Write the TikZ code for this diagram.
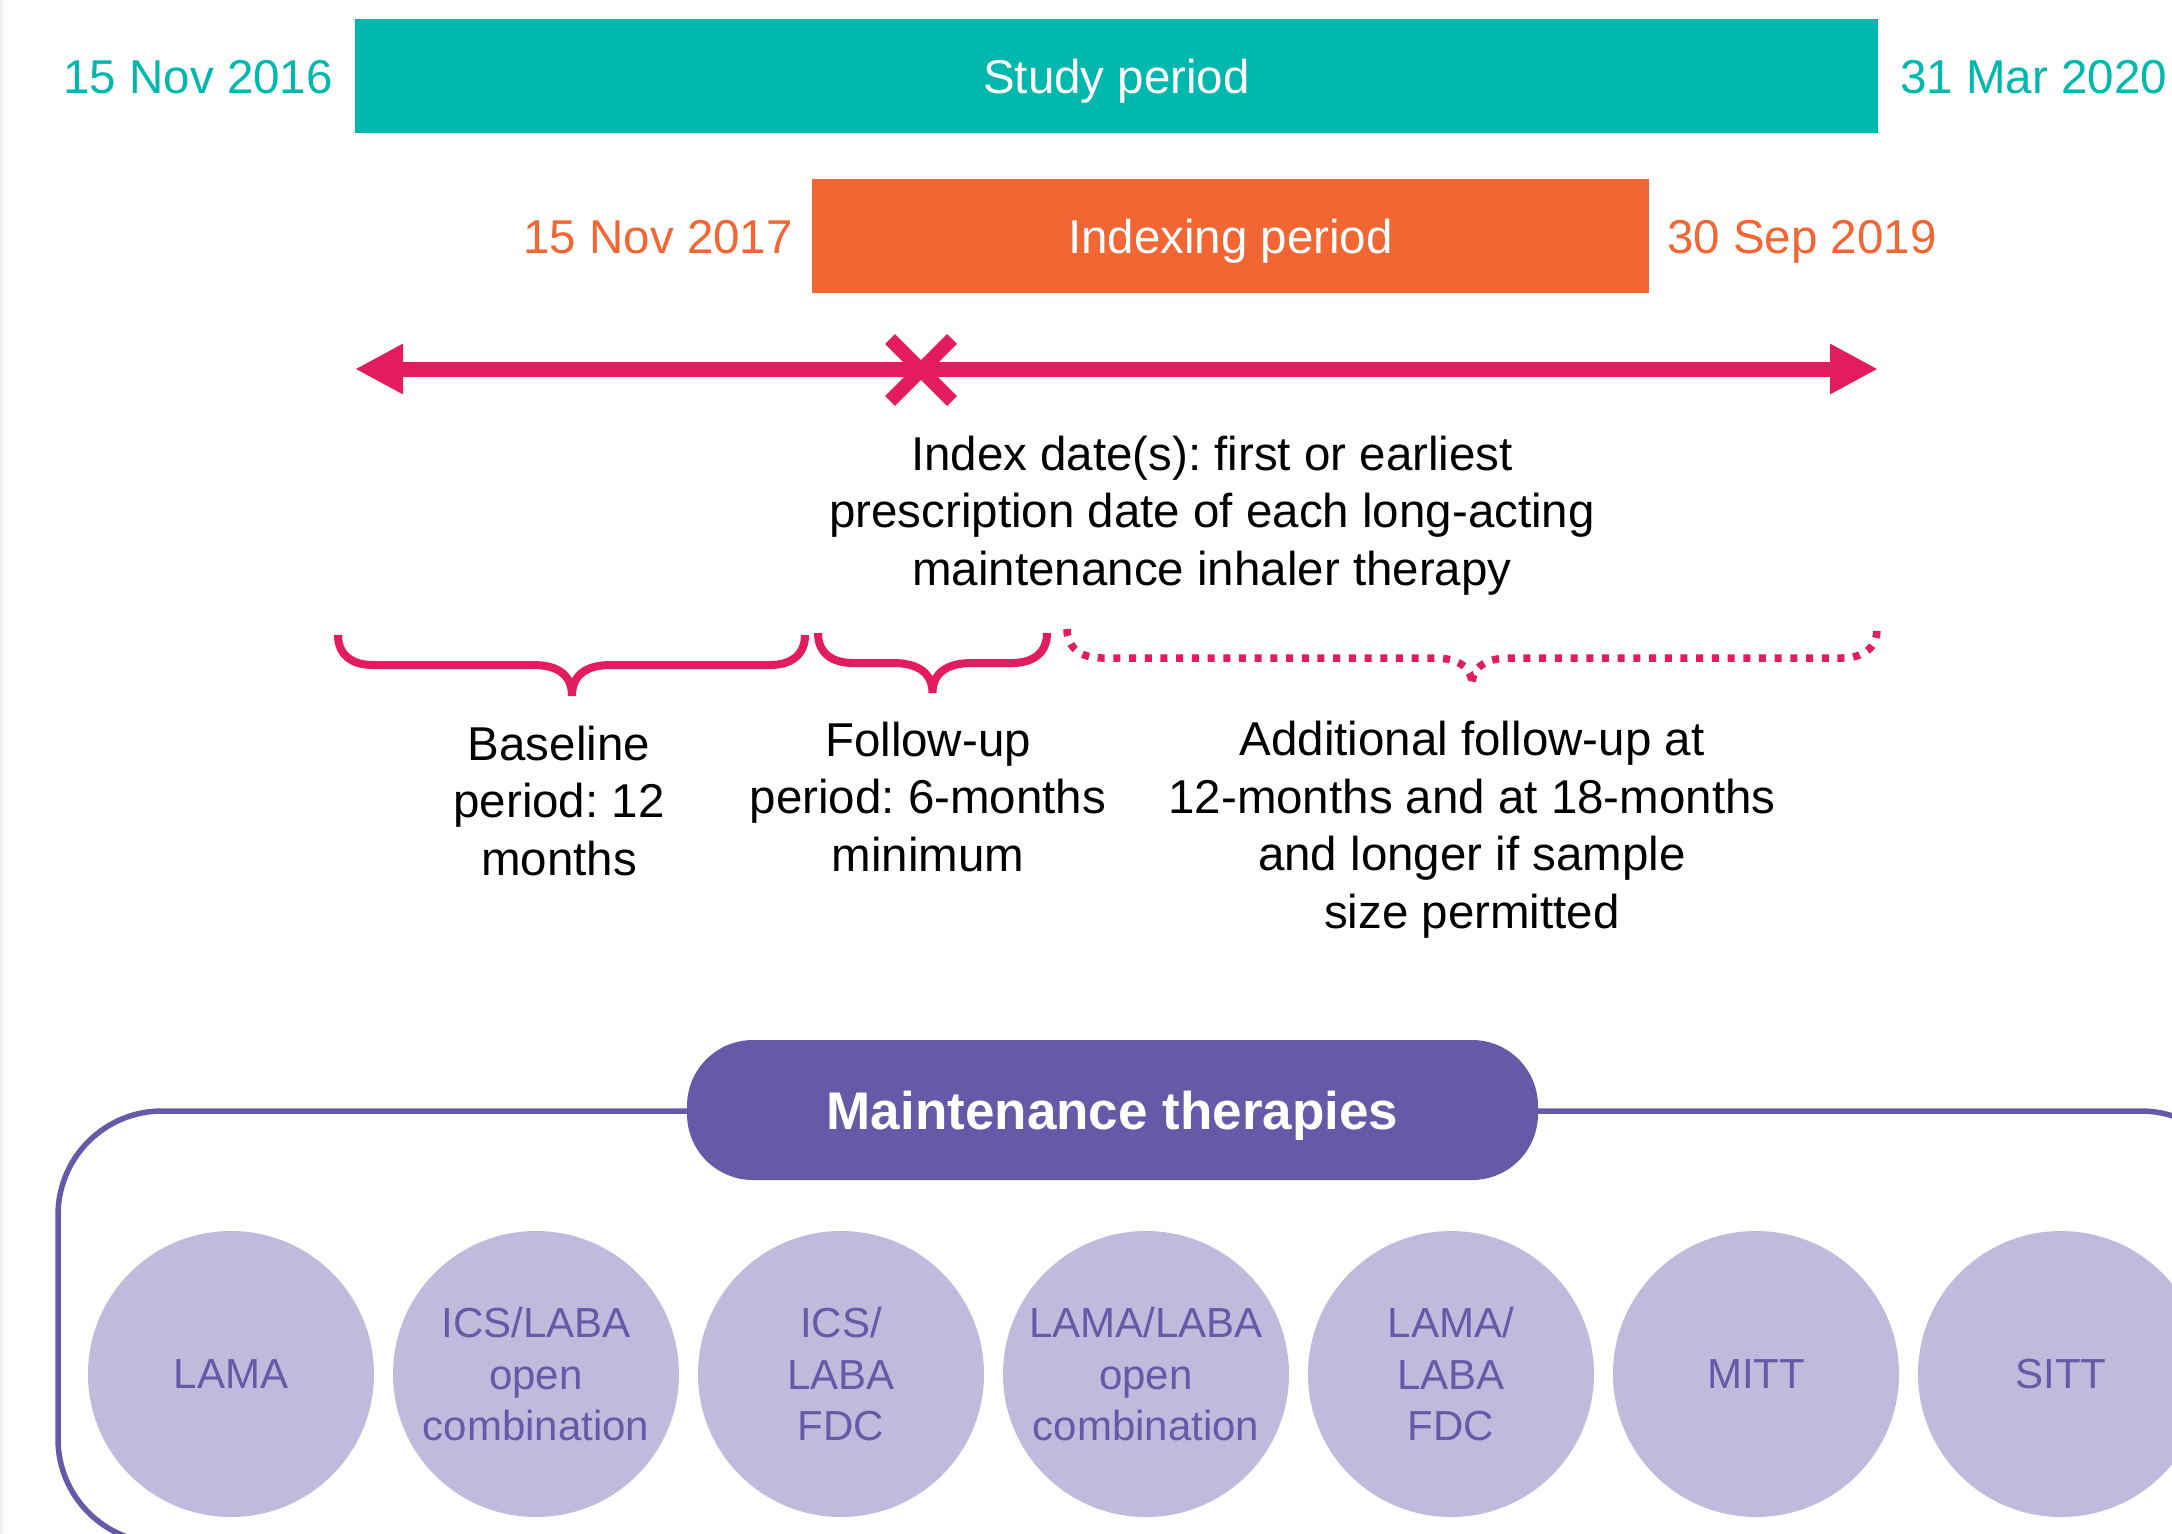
\documentclass[tikz,border=0pt]{standalone}
\usepackage{fontspec}
\setmainfont{Liberation Sans}
\usetikzlibrary{arrows.meta}
\frenchspacing
\definecolor{tealc}{RGB}{0,184,174}
\definecolor{orangec}{RGB}{242,102,52}
\definecolor{pinkc}{RGB}{227,27,95}
\definecolor{purplec}{RGB}{102,89,167}
\definecolor{lavenderc}{RGB}{192,187,220}
\definecolor{edgegray}{RGB}{240,240,240}
\begin{document}
\frenchspacing
\begin{tikzpicture}[x=1pt,y=-1pt,
  bar/.style={rectangle, inner sep=0pt, text=white, minimum height=114pt,
    font=\fontsize{47.5}{57}\selectfont, text height=34pt, text depth=0pt},
  datelabel/.style={inner sep=0pt, font=\fontsize{47.5}{57}\selectfont},
  bodytext/.style={inner sep=0pt, align=center, text=black,
    font=\fontsize{47.5}{57.5}\selectfont},
  timeline/.style={draw=pinkc, line width=15pt,
    {Triangle[length=48pt,width=47pt]}-{Triangle[length=48pt,width=47pt]}},
  xmark/.style={draw=pinkc, line width=14pt},
  bracepath/.style={draw=pinkc, line width=8pt},
  dotbrace/.style={draw=pinkc, line width=7.5pt, dash pattern=on 7pt off 8.7pt},
  framebox/.style={rectangle, draw=purplec, line width=5.5pt, rounded corners=104pt,
    minimum width=2187pt, minimum height=432pt, inner sep=0pt},
  pill/.style={rectangle, rounded corners=66pt, fill=purplec, text=white,
    font=\bfseries\fontsize{53}{60}\selectfont, minimum width=851pt,
    minimum height=140pt, text height=38pt, text depth=0pt, inner sep=0pt},
  therapy/.style={circle, fill=lavenderc, minimum size=286pt, inner sep=0pt,
    align=center, text=purplec, font=\fontsize{42}{51.5}\selectfont}
]
\useasboundingbox (0,0) rectangle (2172,1534);
\fill[white] (0,0) rectangle (2172,1534);
\fill[edgegray] (0,0) rectangle (3,1534);
\begin{scope}
\clip (0,0) rectangle (2172,1534);

% period bars
\node[bar, fill=tealc, minimum width=1523pt] (study) at (1116.5,76) {Study period};
\node[bar, fill=orangec, minimum width=837pt] (indexing) at (1230.5,236) {Indexing period};

% dates
\node[datelabel, text=tealc, anchor=base east] (d1) at (333,93) {15 Nov 2016};
\node[datelabel, text=tealc, anchor=base west] (d2) at (1900,93) {31 Mar 2020};
\node[datelabel, text=orangec, anchor=base east] (d3) at (793,253) {15 Nov 2017};
\node[datelabel, text=orangec, anchor=base west] (d4) at (1667,253) {30 Sep 2019};

% timeline
\coordinate (tlL) at (355,369);
\coordinate (tlR) at (1878,369);
\draw[timeline] (tlL) -- (tlR);
\coordinate (idx) at (921,370);
\draw[xmark] ([shift={(-31,-31)}]idx) -- ([shift={(31,31)}]idx);
\draw[xmark] ([shift={(-31,31)}]idx) -- ([shift={(31,-31)}]idx);

% anchor=base of a multi-line node is the baseline of its last line
\node[bodytext, anchor=base] (idxtext) at (1212,585)
  {Index date(s): first or earliest\\prescription date of each long-acting\\maintenance inhaler therapy};

% braces
\draw[bracepath] (338,635) .. controls (338,655) and (352,665) .. (373,665) -- (533,665)
  .. controls (558,665) and (572,675) .. (572,696)
  .. controls (572,675) and (586,665) .. (611,665) -- (770,665)
  .. controls (791,665) and (805,655) .. (805,635);
\draw[bracepath] (818,633) .. controls (818,653) and (832,663) .. (853,663) -- (893,663)
  .. controls (918,663) and (932.5,673) .. (932.5,693)
  .. controls (932.5,673) and (947,663) .. (972,663) -- (1012,663)
  .. controls (1033,663) and (1047,653) .. (1047,633);
\draw[dotbrace] (1067,629) .. controls (1067,648) and (1081,658) .. (1102,658) -- (1434,658)
  .. controls (1458,658) and (1472,667) .. (1472,685)
  .. controls (1472,667) and (1486,658) .. (1510,658) -- (1842,658)
  .. controls (1863,658) and (1877,648) .. (1877,629);

\node[bodytext, anchor=base] (baseline) at (559,875) {Baseline\\period: 12\\months};
\node[bodytext, anchor=base] (followup) at (928,871) {Follow-up\\period: 6-months\\minimum};
\node[bodytext, anchor=base] (additional) at (1472,928)
  {Additional follow-up at\\12-months and at 18-months\\and longer if sample\\size permitted};

% maintenance therapies
\node[framebox] (frame) at (1151.5,1327) {};
\node[pill] (mt) at (1112.5,1110) {Maintenance therapies};
\node[therapy] (t1) at (231,1374) {LAMA};
\node[therapy] (t2) at (536,1374) {ICS/LABA\\open\\combination};
\node[therapy] (t3) at (841,1374) {ICS/\\LABA\\FDC};
\node[therapy] (t4) at (1146,1374) {LAMA/LABA\\open\\combination};
\node[therapy] (t5) at (1451,1374) {LAMA/\\LABA\\FDC};
\node[therapy] (t6) at (1756,1374) {MITT};
\node[therapy] (t7) at (2061,1374) {SITT};
\end{scope}
\end{tikzpicture}
\end{document}
